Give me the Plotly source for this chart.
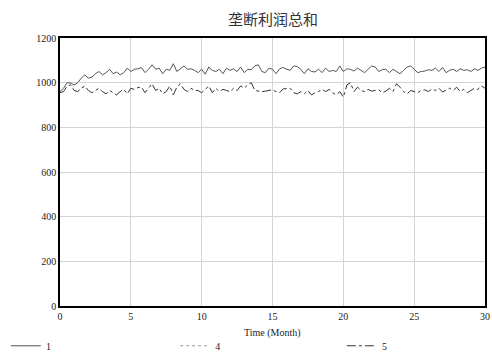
import plotly.graph_objects as go

months = [i * 0.25 for i in range(121)]

series_1 = [960, 975, 1000, 998, 990, 1000, 1020, 1035, 1020, 1025, 1040, 1050, 1035, 1045, 1060, 1040,
            1048, 1035, 1045, 1065, 1050, 1060, 1062, 1068, 1045, 1060, 1080, 1060, 1065, 1040, 1060, 1055,
            1085, 1050, 1062, 1075, 1060, 1062, 1055, 1045, 1060, 1038, 1070, 1055, 1050, 1060, 1040, 1065,
            1055, 1062, 1050, 1070, 1045, 1060, 1058, 1075, 1080, 1050, 1045, 1065, 1060, 1040, 1062, 1068,
            1060, 1055, 1075, 1072, 1060, 1040, 1062, 1050, 1048, 1060, 1045, 1065, 1050, 1055, 1050, 1075,
            1050, 1062, 1060, 1052, 1065, 1055, 1045, 1060, 1075, 1070, 1050, 1058, 1060, 1045, 1060, 1050,
            1040, 1055, 1070, 1075, 1060, 1045, 1050, 1052, 1058, 1055, 1065, 1050, 1068, 1045, 1055, 1060,
            1050, 1062, 1055, 1058, 1050, 1062, 1055, 1065, 1070]

series_5 = [955, 960, 985, 990, 965, 960, 975, 985, 965, 955, 965, 975, 960, 950, 965, 955,
            945, 960, 970, 950, 975, 970, 978, 980, 955, 975, 995, 965, 975, 950, 960, 985,
            945, 980, 995, 970, 960, 975, 965, 965, 955, 970, 985, 955, 975, 960, 970, 965,
            960, 975, 965, 985, 975, 990, 1000, 965, 962, 960, 962, 965, 968, 960, 955, 972,
            975, 975, 955, 950, 960, 950, 965, 945, 955, 960, 970, 960, 970, 955, 945, 960,
            935, 990, 1000, 960, 980, 965, 960, 970, 962, 965, 968, 955, 962, 975, 960, 995,
            980, 960, 950, 965, 960, 955, 965, 968, 960, 972, 965, 975, 958, 965, 975, 965,
            980, 960, 970, 955, 965, 975, 970, 985, 975]

series_4 = [None] * len(months)

y_ticks = [0, 200, 400, 600, 800, 1000, 1200]
x_ticks = [0, 5, 10, 15, 20, 25, 30]

serif = "Liberation Serif, Times New Roman, serif"
text_col = "#222222"

fig = go.Figure()
fig.add_trace(go.Scatter(x=months, y=series_1, name="1", mode="lines", legend="legend",
                         line=dict(color="#555555", width=1)))
fig.add_trace(go.Scatter(x=months, y=series_4, name="4", mode="lines", legend="legend2",
                         line=dict(color="#999999", width=1, dash="dot")))
fig.add_trace(go.Scatter(x=months, y=series_5, name="5", mode="lines", legend="legend3",
                         line=dict(color="#333333", width=1, dash="dashdot")))

def leg(xpos):
    return dict(orientation="h", xref="container", yref="container",
                x=xpos, xanchor="left", y=0.026, yanchor="middle",
                font=dict(family=serif, size=10, color=text_col),
                bgcolor="rgba(0,0,0,0)")

fig.update_layout(
    width=492, height=355,
    margin=dict(l=60, r=7, t=38, b=49, autoexpand=False),
    paper_bgcolor="white", plot_bgcolor="white",
    title=dict(text="垄断利润总和", x=0.555, xanchor="center", yref="container",
               y=0.945, yanchor="middle",
               font=dict(family="Noto Sans CJK SC", size=15, color="#333333")),
    font=dict(family=serif, size=10, color=text_col),
    showlegend=True,
    legend=leg(0.012),
    legend2=leg(0.356),
    legend3=leg(0.695),
    xaxis=dict(range=[0, 30], tickvals=x_ticks, showgrid=True, gridcolor="#d9d3cf",
               gridwidth=1, showline=True, linecolor="black", linewidth=1.5, mirror=True,
               zeroline=False, ticks="", ticklen=0),
    yaxis=dict(range=[0, 1200], tickvals=y_ticks, showgrid=True, gridcolor="#d9d3cf",
               gridwidth=1, showline=True, linecolor="black", linewidth=1.5, mirror=True,
               zeroline=False, ticks="", ticklen=0),
    annotations=[dict(text="Time (Month)", xref="paper", yref="paper", x=0.5, y=-0.1,
                      xanchor="center", yanchor="middle", showarrow=False,
                      font=dict(family=serif, size=10, color=text_col))],
)

fig.write_html("out.html", config={"displayModeBar": False},
               post_script="document.body.style.margin='0px';")
